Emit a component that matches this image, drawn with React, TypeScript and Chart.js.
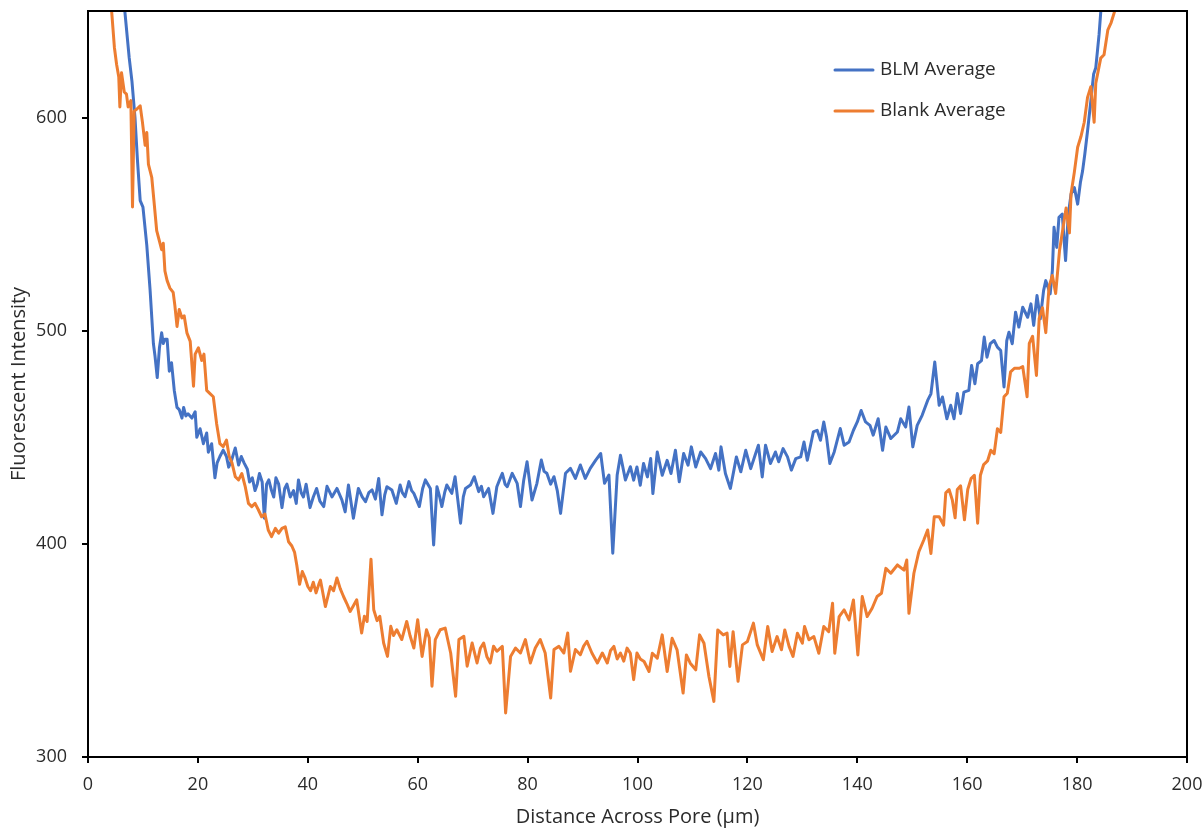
import { useEffect, useRef } from 'react';
import { Chart, registerables } from 'chart.js';

Chart.register(...registerables);

// ---- Data ----
const blmDistance = [
  6.5, 6.7, 7.5, 8.0, 8.55, 9.0, 9.5, 10.0, 10.7, 11.3, 11.9, 12.2, 12.6, 13.0, 13.4, 13.7, 14.0, 14.4, 14.8, 15.2,
  15.7, 16.2, 16.6, 17.1, 17.4, 17.8, 18.2, 18.9, 19.5, 19.8, 20.4, 21.0, 21.6, 21.9, 22.5, 23.1, 23.5, 24.0, 24.6, 25.2,
  25.6, 26.1, 26.8, 27.4, 27.9, 28.4, 29.0, 29.4, 29.9, 30.4, 30.8, 31.2, 31.7, 32.1, 32.5, 32.9, 33.4, 33.8, 34.2, 34.7,
  35.3, 35.8, 36.2, 36.8, 37.4, 37.9, 38.3, 38.8, 39.2, 39.7, 40.4, 41.0, 41.6, 42.2, 42.9, 43.5, 44.4, 45.3, 46.2, 46.8,
  47.4, 48.3, 49.2, 49.9, 50.5, 51.1, 51.7, 52.3, 52.9, 53.5, 54.0, 54.4, 55.3, 56.1, 56.8, 57.2, 57.7, 58.4, 58.9, 59.3,
  60.3, 60.9, 61.4, 62.3, 62.9, 63.5, 64.0, 64.4, 64.9, 65.3, 66.2, 66.8, 67.8, 68.3, 68.7, 69.6, 70.3, 71.1, 71.6, 72.0,
  72.9, 73.7, 74.4, 74.9, 75.4, 75.9, 76.3, 77.2, 78.1, 78.7, 79.3, 79.9, 80.8, 81.7, 82.5, 83.0, 83.5, 84.2, 84.8, 85.4,
  86.0, 86.9, 87.8, 88.7, 89.6, 90.5, 91.4, 92.4, 93.3, 94.0, 94.8, 95.5, 96.3, 96.9, 97.8, 98.7, 99.3, 99.9, 100.5, 101.1,
  101.8, 102.4, 102.8, 103.6, 104.5, 105.4, 106.1, 106.9, 107.6, 108.4, 109.2, 109.8, 110.6, 111.5, 112.4, 113.3, 114.2, 114.8, 115.2, 116.0,
  116.9, 117.5, 118.0, 118.8, 119.7, 120.6, 121.5, 122.0, 122.7, 123.3, 124.2, 125.1, 125.7, 126.5, 127.3, 128.0, 128.8, 129.7, 130.3, 130.9,
  131.5, 132.0, 132.7, 133.3, 133.9, 134.4, 135.0, 135.8, 136.9, 137.6, 138.5, 139.3, 140.0, 140.7, 141.5, 142.3, 142.9, 143.8, 144.6, 145.2,
  146.1, 147.3, 147.9, 148.8, 149.4, 150.1, 150.9, 151.8, 152.8, 153.4, 154.1, 154.9, 155.5, 156.3, 157.0, 157.6, 158.2, 158.8, 159.4, 160.3,
  160.8, 161.4, 161.9, 162.6, 163.1, 163.6, 164.2, 164.9, 165.5, 166.1, 166.7, 167.2, 167.6, 168.2, 168.8, 169.4, 170.1, 171.0, 171.6, 172.1,
  172.7, 173.3, 173.9, 174.3, 175.1, 175.5, 175.8, 176.3, 176.7, 177.3, 177.9, 178.4, 178.9, 179.5, 180.1, 180.6, 181.0, 181.4, 181.9, 182.5,
  183.0, 183.4, 183.7, 184.0, 184.3, 184.5,
];
const blmIntensity = [
  660, 650, 628, 617, 600, 580, 561, 558, 540, 519, 494, 488, 478, 492, 499, 494, 496, 496, 481, 485,
  472, 464, 463, 459, 464, 460, 461, 459, 462, 450, 454, 447, 452, 443, 447, 431, 438, 441, 444, 441,
  436, 439, 445, 437, 441, 438, 435, 429, 431, 425, 428, 433, 429, 412, 428, 430, 425, 422, 431, 428,
  417, 426, 428, 422, 425, 419, 430, 424, 422, 428, 417, 422, 426, 420, 417.5, 427, 422, 426, 420.6, 415,
  427.6, 412, 426, 422, 419.8, 424, 425.3, 421, 430.7, 413.6, 423, 426.8, 425.3, 419, 427.6, 424, 422.1, 429.2, 425, 423.7,
  417.5, 426, 430, 426, 399.5, 426.8, 422, 417.5, 424, 427.6, 423.7, 431.5, 409.7, 422, 426, 427.6, 431.5, 424.5, 427, 422.1,
  426, 414.3, 426.8, 430, 433.1, 428, 426.8, 433.1, 428.4, 417.5, 430, 438.5, 420.6, 428.4, 439.3, 434, 433.1, 428, 431.5, 425,
  414.3, 433.1, 435.4, 430.7, 437, 430.7, 435.4, 439.3, 442.4, 428.4, 432.3, 395.6, 432.3, 441.6, 430, 436.2, 429.9, 436.1, 427.5, 437.7,
  431.4, 440, 423.6, 443.1, 432.2, 439.2, 433, 443.9, 429.1, 442.4, 436.9, 445.5, 436.1, 443.1, 440, 435.3, 442.4, 434.6, 445.5, 433,
  426, 434, 440.8, 433.8, 443.9, 435.3, 442.4, 446.3, 431.4, 446.3, 437.7, 443.1, 438.5, 444.7, 440.8, 434.6, 440, 440.8, 447.8, 439.2,
  446.3, 452.5, 453.3, 448.6, 457.2, 450.2, 437.7, 443.1, 454.1, 446.3, 447.8, 453.3, 457.2, 462.6, 457.2, 455.6, 451, 458.7, 443.9, 454.8,
  449.4, 452.5, 458.7, 454.8, 464.2, 445.5, 455.6, 460.3, 467.3, 470.4, 485.3, 465, 468.9, 458.7, 465, 458.7, 470.5, 461.1, 471.2, 472,
  483.7, 475.1, 484.5, 486, 497, 487.6, 493.9, 495.4, 492.3, 490.7, 473.6, 495.4, 499.3, 493.9, 508.7, 501.7, 511, 506.3, 512.6, 502.5,
  516.5, 505.6, 518.8, 523.5, 517.3, 528.2, 548.5, 539.1, 553.2, 554.7, 532.9, 554.7, 564.1, 567.2, 559.4, 569.5, 575, 582.8, 593.7, 607.8,
  620.3, 623.4, 631.2, 639, 649.4, 660,
];

const blankDistance = [
  4.1, 4.3, 4.8, 5.2, 5.6, 5.8, 6.1, 6.6, 7.0, 7.3, 7.8, 8.1, 8.4, 8.9, 9.5, 9.9, 10.4, 10.7, 11.0, 11.3,
  11.6, 12.0, 12.5, 13.0, 13.4, 13.7, 14.0, 14.4, 14.9, 15.5, 15.8, 16.2, 16.6, 17.1, 17.5, 18.0, 18.6, 19.2, 19.5, 20.1,
  20.7, 21.1, 21.6, 22.2, 22.8, 23.4, 24.0, 24.6, 25.2, 25.7, 26.2, 26.8, 27.4, 28.0, 28.6, 29.2, 29.8, 30.4, 31.0, 31.6,
  32.2, 32.8, 33.4, 34.1, 34.7, 35.3, 35.9, 36.5, 37.1, 37.6, 38.0, 38.5, 39.0, 39.5, 40.0, 40.5, 41.0, 41.5, 42.0, 42.3,
  43.2, 44.1, 44.7, 45.3, 45.9, 46.5, 47.1, 47.7, 48.3, 48.9, 49.8, 50.3, 50.8, 51.5, 52.0, 52.6, 53.1, 53.8, 54.5, 55.1,
  55.6, 56.2, 57.1, 58.0, 58.6, 59.3, 60.0, 60.8, 61.6, 62.1, 62.6, 63.2, 64.1, 65.0, 66.0, 66.9, 67.5, 68.4, 69.0, 69.9,
  70.8, 71.4, 72.0, 72.6, 73.2, 73.8, 74.4, 75.4, 76.0, 76.9, 77.8, 78.7, 79.6, 80.5, 81.4, 82.3, 83.2, 84.2, 84.8, 85.7,
  86.6, 87.3, 87.8, 88.7, 89.6, 90.2, 90.8, 91.7, 92.7, 93.6, 94.5, 95.1, 95.7, 96.3, 96.9, 97.5, 98.1, 98.7, 99.3, 99.9,
  100.5, 101.2, 102.1, 102.7, 103.6, 104.5, 105.4, 106.3, 107.2, 108.3, 108.9, 109.6, 110.6, 111.3, 112.1, 113.0, 113.9, 114.6, 115.6, 116.3,
  116.8, 117.4, 118.3, 119.1, 120.0, 121.1, 121.8, 122.9, 123.7, 124.5, 125.4, 126.2, 126.8, 127.6, 128.3, 129.1, 130.0, 130.4, 131.2, 132.1,
  133.0, 133.9, 134.8, 135.5, 135.9, 136.7, 137.6, 138.5, 139.3, 140.1, 140.9, 141.8, 142.7, 143.6, 144.4, 145.2, 146.1, 147.3, 148.5, 149.0,
  149.4, 150.3, 151.2, 152.1, 152.8, 153.4, 154.0, 154.9, 155.7, 156.1, 156.7, 157.3, 157.8, 158.2, 158.8, 159.5, 160.1, 160.7, 161.3, 161.9,
  162.4, 163.0, 163.7, 164.3, 164.9, 165.5, 166.1, 166.7, 167.3, 167.9, 168.6, 169.5, 170.1, 170.9, 171.3, 171.9, 172.6, 173.1, 173.7, 174.3,
  174.9, 175.5, 176.1, 176.8, 177.4, 178.0, 178.6, 178.9, 179.5, 180.1, 180.7, 181.3, 181.9, 182.5, 183.1, 183.4, 184.3, 184.9, 185.6, 186.2,
  186.8, 187.0,
];
const blankIntensity = [
  660, 650, 633, 625, 619, 605, 621, 612, 611, 605, 608, 558, 603, 604, 605.5, 598, 587, 593, 578, 575,
  572, 561, 547, 542, 538, 541, 528, 523.5, 520, 518, 512, 502, 510, 506, 507, 499, 495, 474, 489, 492,
  486, 489, 472, 470.5, 469, 456.5, 447, 445.6, 448.7, 441, 438, 431.5, 430, 433, 427, 419, 417.5, 419, 416, 412.7,
  414, 406.5, 403.4, 407.3, 405, 407.3, 408, 401, 399, 396, 390, 381, 387, 384, 380, 378, 382, 377, 381, 383,
  370.6, 380, 378, 384, 379, 375.3, 372, 368.3, 371, 373.8, 358.2, 366, 363.6, 392.8, 369.1, 364, 366, 353.5, 347.2, 361.3,
  357, 359.7, 355.1, 363.6, 357, 351.1, 364.4, 347.2, 359.7, 356, 333.2, 355.1, 359.7, 360.5, 348.8, 328.5, 355.1, 356.6, 342.6, 353.5,
  344.1, 351, 353.5, 347, 344.1, 352, 349.6, 351.9, 320.7, 347.2, 351.1, 348.8, 355.1, 344.1, 351.1, 355.1, 348.8, 327.7, 350.4, 351.9,
  348.8, 358.2, 340.2, 350.4, 348, 352, 354.3, 348.8, 344.1, 348.8, 344.1, 350, 351.9, 346, 348.8, 345, 351.1, 348.7, 336.3, 348.8,
  346, 344.8, 340.1, 348.7, 346.4, 357.3, 340.1, 355.7, 350.3, 330, 347.9, 344, 340.9, 357.3, 353.4, 337.8, 326.1, 359.6, 357.3, 358.1,
  342.5, 358.8, 335.5, 352.6, 354.2, 362.8, 352.6, 345.6, 361.2, 349.5, 356.5, 350.3, 359.6, 351.8, 347.2, 358.1, 353.4, 361.2, 355, 356.5,
  348.7, 361.2, 358.8, 372.1, 348.7, 365.9, 369, 364.3, 373.7, 347.9, 375.3, 365.9, 369.8, 375.3, 376.8, 388.5, 386.2, 390.1, 387.7, 392.4,
  367.4, 386.2, 396.3, 401.8, 406.5, 395.5, 412.7, 412.7, 408.8, 423.9, 425.5, 420.5, 412.2, 425.5, 427.2, 411.3, 425.5, 430.6, 432.2, 409.7,
  432.2, 437.2, 438.9, 443.9, 442.3, 454, 452.3, 469, 470.7, 480.7, 482.4, 482.4, 483.2, 469, 494.1, 497.4, 479, 505.8, 510.8, 499.1,
  520.8, 525.9, 517.5, 537.6, 547.6, 557.6, 545.9, 564.3, 574.4, 586.1, 591.1, 597.8, 609.5, 614.5, 597.8, 616.1, 627.9, 629.5, 641.2, 644.6,
  649.6, 660,
];

const seriesLabels = ['BLM Average', 'Blank Average'];
const seriesColors = ['#4472C4', '#ED7D31'];
const xTicks = [0, 20, 40, 60, 80, 100, 120, 140, 160, 180, 200];
const yTicks = [300, 400, 500, 600];
const xTitle = 'Distance Across Pore (µm)';
const yTitle = 'Fluorescent Intensity';

const FONT = "'Open Sans', 'Noto Sans', sans-serif";
const TEXT = '#2b2b2b';

const framePlugin = {
  id: 'frameBox',
  afterDatasetsDraw(chart: any) {
    const { ctx, chartArea: a } = chart;
    ctx.save();
    ctx.strokeStyle = '#000';
    ctx.lineWidth = 2;
    ctx.beginPath();
    ctx.moveTo(a.left, a.top);
    ctx.lineTo(a.right, a.top);
    ctx.lineTo(a.right, a.bottom);
    ctx.stroke();
    ctx.restore();
  },
};

const insideLegend = {
  id: 'insideLegend',
  afterDraw(chart: any) {
    const { ctx, chartArea: a } = chart;
    ctx.save();
    chart.data.datasets.forEach((ds: any, i: number) => {
      const y = a.top + 59 + i * 41;
      const x0 = a.left + 747;
      ctx.strokeStyle = ds.borderColor;
      ctx.lineWidth = 3;
      ctx.lineCap = 'round';
      ctx.beginPath();
      ctx.moveTo(x0, y);
      ctx.lineTo(x0 + 38, y);
      ctx.stroke();
      ctx.fillStyle = TEXT;
      ctx.font = `19px ${FONT}`;
      ctx.textBaseline = 'middle';
      ctx.textAlign = 'left';
      ctx.fillText(ds.label, x0 + 45, y);
    });
    ctx.restore();
  },
};

export default function App() {
  const ref = useRef<HTMLCanvasElement | null>(null);

  useEffect(() => {
    if (!ref.current) return;
    const chart = new Chart(ref.current, {
      type: 'line',
      data: {
        datasets: [
          {
            label: seriesLabels[0],
            data: blmDistance.map((x, i) => ({ x, y: blmIntensity[i] })),
            borderColor: seriesColors[0],
            backgroundColor: seriesColors[0],
            borderWidth: 3,
            pointRadius: 0,
            tension: 0,
            borderJoinStyle: 'round',
            borderCapStyle: 'round',
            order: 2,
          },
          {
            label: seriesLabels[1],
            data: blankDistance.map((x, i) => ({ x, y: blankIntensity[i] })),
            borderColor: seriesColors[1],
            backgroundColor: seriesColors[1],
            borderWidth: 3,
            pointRadius: 0,
            tension: 0,
            borderJoinStyle: 'round',
            borderCapStyle: 'round',
            order: 1,
          },
        ],
      },
      options: {
        responsive: false,
        animation: false,
        events: [],
        layout: { padding: { top: 11, right: 17, left: 0, bottom: 0 } },
        plugins: {
          legend: { display: false },
          tooltip: { enabled: false },
        },
        scales: {
          x: {
            type: 'linear',
            min: 0,
            max: 200,
            afterBuildTicks: (s: any) => {
              s.ticks = xTicks.map((v) => ({ value: v }));
            },
            afterFit: (s: any) => {
              s.height = 73;
              s.paddingLeft = 0;
              s.paddingRight = 0;
            },
            grid: {
              display: true,
              drawOnChartArea: false,
              drawTicks: true,
              tickLength: 6,
              color: '#000',
              lineWidth: 2,
            },
            border: { display: true, color: '#000', width: 2 },
            ticks: {
              color: TEXT,
              font: { family: FONT, size: 18 },
              padding: 11,
              maxRotation: 0,
              autoSkip: false,
            },
            title: {
              display: true,
              text: xTitle,
              color: TEXT,
              font: { family: FONT, size: 20 },
              padding: { top: 0, bottom: 1 },
            },
          },
          y: {
            type: 'linear',
            min: 300,
            max: 650,
            afterBuildTicks: (s: any) => {
              s.ticks = yTicks.map((v) => ({ value: v }));
            },
            afterFit: (s: any) => {
              s.width = 88;
              s.paddingTop = 0;
              s.paddingBottom = 0;
            },
            grid: {
              display: true,
              drawOnChartArea: false,
              drawTicks: true,
              tickLength: 6,
              color: '#000',
              lineWidth: 2,
            },
            border: { display: true, color: '#000', width: 2 },
            ticks: {
              color: TEXT,
              font: { family: FONT, size: 18 },
              padding: 15,
              autoSkip: false,
            },
            title: {
              display: true,
              text: yTitle,
              color: TEXT,
              font: { family: FONT, size: 20 },
              padding: { top: 7, bottom: 0 },
            },
          },
        },
      },
      plugins: [framePlugin, insideLegend],
    } as any);
    return () => chart.destroy();
  }, []);

  return (
    <div style={{ position: 'fixed', left: 0, top: 0, width: 1204, height: 830, background: '#fff' }}>
      <canvas ref={ref} width={1204} height={830} style={{ display: 'block', width: 1204, height: 830 }} />
    </div>
  );
}
